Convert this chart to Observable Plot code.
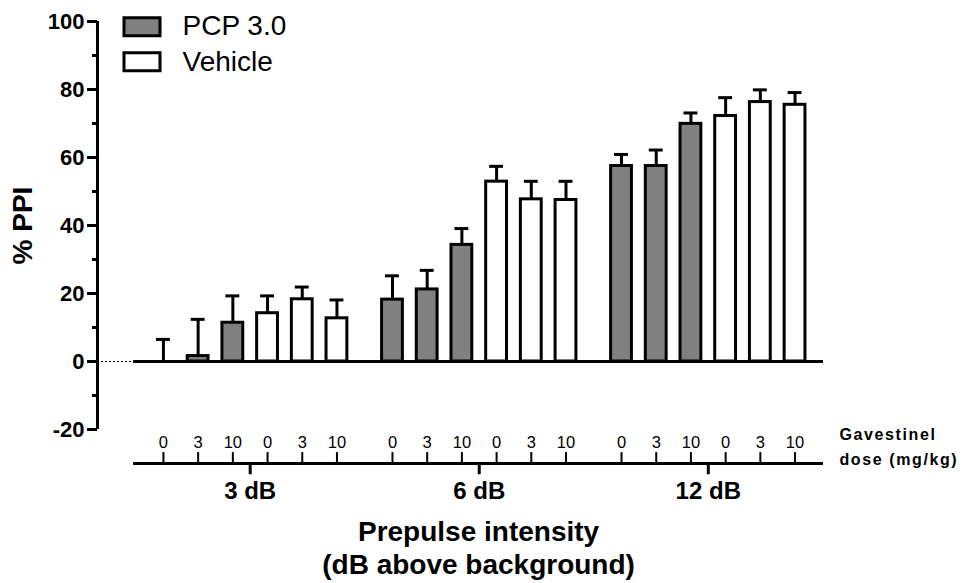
<!DOCTYPE html>
<html><head><meta charset="utf-8">
<script src="https://cdn.jsdelivr.net/npm/d3@7"></script>
<script src="https://cdn.jsdelivr.net/npm/@observablehq/plot@0.6"></script>
<style>body{margin:0;background:#fff}</style>
</head><body><div id="chart"></div>
<script>
// ---- data ----
const groups = ["3 dB", "6 dB", "12 dB"];
const doses = ["0", "3", "10", "0", "3", "10"];
const treatments = ["PCP 3.0", "PCP 3.0", "PCP 3.0", "Vehicle", "Vehicle", "Vehicle"];
const mean3dB  = [0, 1.6, 11.4, 14.2, 18.3, 12.7];
const sem3dB   = [6.5, 10.8, 7.9, 5.1, 3.6, 5.4];
const mean6dB  = [18.2, 21.2, 34.3, 52.9, 47.7, 47.5];
const sem6dB   = [7.0, 5.6, 4.8, 4.5, 5.3, 5.5];
const mean12dB = [57.5, 57.5, 69.9, 72.2, 76.3, 75.5];
const sem12dB  = [3.4, 4.7, 3.2, 5.4, 3.6, 3.6];
const legendItems = ["PCP 3.0", "Vehicle"];
const yMajorTicks = [-20, 0, 20, 40, 60, 80, 100];
const yMinorTicks = [-10, 10, 30, 50, 70, 90];
const xTitle = "Prepulse intensity\n(dB above background)";
const doseTitle = "Gavestinel\ndose (mg/kg)";
const yTitle = "% PPI";

// ---- layout ----
const FONT = '"Liberation Sans", Arial, Helvetica, sans-serif';
const groupStep = 6.6;       // slots between group starts
const xDomain = [-1.9, 19.02];
const axisStart = -0.86;     // where category axis begins
const barHalf = 0.3;
const capHalf = 0.2;
const baseY = -30;           // value at which the category axis sits
const colors = ["#808080", "#ffffff"];

const meansByGroup = [mean3dB, mean6dB, mean12dB];
const semsByGroup = [sem3dB, sem6dB, sem12dB];
const data = [];
groups.forEach((g, gi) => {
  doses.forEach((d, i) => data.push({
    group: g, dose: d, treatment: treatments[i],
    mean: meansByGroup[gi][i], sem: semsByGroup[gi][i],
    pos: gi * groupStep + i
  }));
});
const groupData = groups.map((g, gi) => ({group: g, pos: gi * groupStep + 2.5}));

const rectSymbol = {draw(ctx) { ctx.moveTo(-18, -9); ctx.lineTo(18, -9); ctx.lineTo(18, 9); ctx.lineTo(-18, 9); ctx.closePath(); }};

const chart = Plot.plot({
  width: 971, height: 583,
  marginLeft: 97, marginRight: 148, marginTop: 21, marginBottom: 154,
  style: {fontFamily: FONT, background: "white", color: "black"},
  x: {domain: xDomain, axis: null},
  y: {domain: [-20, 100]},
  color: {domain: legendItems, range: colors},
  marks: [
    Plot.axisY({ticks: yMajorTicks, tickSize: 10, tickPadding: 3, strokeWidth: 3, tickFormat: d => String(d), fontSize: 22, fontWeight: "bold", label: null}),
    Plot.axisY({ticks: yMinorTicks, tickSize: 5, strokeWidth: 3, tickFormat: () => "", label: null}),
    Plot.ruleX([xDomain[0]], {y1: -20, y2: 100, strokeWidth: 3}),
    Plot.ruleY([0], {x1: xDomain[0], x2: axisStart, strokeWidth: 1, strokeDasharray: "2,2"}),
    Plot.ruleX(data, {x: "pos", y1: "mean", y2: d => d.mean + d.sem, strokeWidth: 3}),
    Plot.ruleY(data, {y: d => d.mean + d.sem, x1: d => d.pos - capHalf, x2: d => d.pos + capHalf, strokeWidth: 3}),
    Plot.rectY(data, {x1: d => d.pos - barHalf, x2: d => d.pos + barHalf, y1: 0, y2: "mean", fill: "treatment", stroke: "black", strokeWidth: 3}),
    Plot.ruleY([0], {x1: axisStart, x2: xDomain[1], strokeWidth: 3}),
    // category axis
    Plot.ruleY([baseY], {x1: axisStart, x2: xDomain[1], strokeWidth: 3}),
    Plot.ruleX(data, {x: "pos", y1: baseY, y2: baseY + 3.2, strokeWidth: 2}),
    Plot.text(data, {x: "pos", y: baseY, dy: -21, text: "dose", fontSize: 16.5}),
    Plot.ruleX(groupData, {x: "pos", y1: baseY, y2: baseY - 3.3, strokeWidth: 3}),
    Plot.text(groupData, {x: "pos", y: baseY, dy: 28, text: "group", fontSize: 24, fontWeight: "bold"}),
    Plot.text([xTitle], {x: (axisStart + xDomain[1]) / 2, y: baseY, dy: 83.5, fontSize: 28, fontWeight: "bold", lineHeight: 1.18}),
    Plot.text([doseTitle], {x: xDomain[1], y: baseY, dx: 16, dy: -19, textAnchor: "start", fontSize: 16, fontWeight: "bold", lineHeight: 1.6}),
    Plot.text([yTitle], {frameAnchor: "left", dx: -74.5, rotate: -90, textAnchor: "middle", lineAnchor: "middle", fontSize: 28, fontWeight: "bold"}),
    // legend
    ...legendItems.map((t, i) => Plot.dot([t], {frameAnchor: "top-left", dx: 44.5, dy: 5.3 + 35 * i, symbol: rectSymbol, fill: colors[i], stroke: "black", strokeWidth: 3})),
    ...legendItems.map((t, i) => Plot.text([t], {frameAnchor: "top-left", dx: 85, dy: 5 + 35.3 * i, textAnchor: "start", lineAnchor: "middle", fontSize: 28}))
  ]
});
document.getElementById("chart").appendChild(chart);
chart.querySelectorAll("text").forEach(t => {
  if (t.textContent.startsWith("Gavestinel")) t.style.letterSpacing = "1.6px";
});
</script>
</body></html>
